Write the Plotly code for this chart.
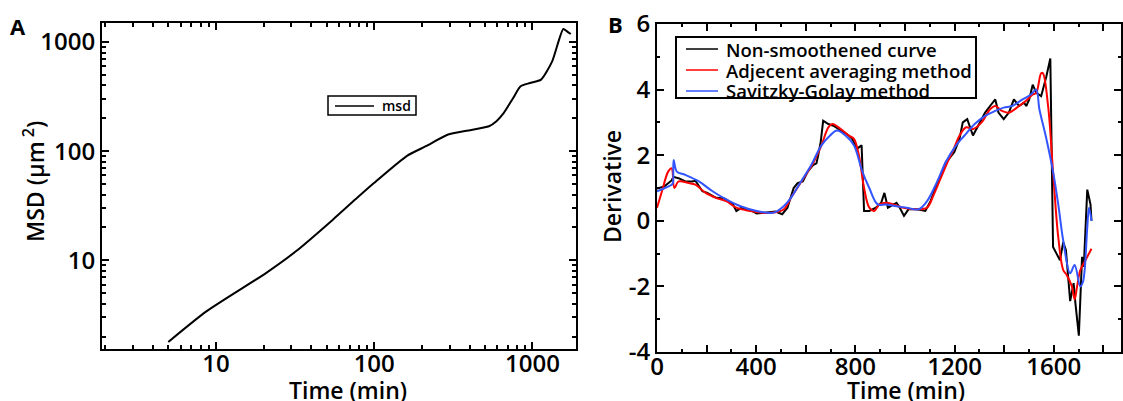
import plotly.graph_objects as go

# ---------------- Panel A data (log-log MSD) ----------------
msd_time = [5, 8.7, 20.7, 32, 54.8, 75.8, 99.6, 162, 212, 293, 384, 531, 592, 659,
            755, 841, 963, 1133, 1332, 1566, 1653, 1745]
msd_val = [1.79, 3.41, 7.65, 12.1, 23.6, 36, 51, 91, 111, 142, 154, 169, 188, 224,
           307, 393, 421, 452, 665, 1315, 1253, 1184]
a_ticks = [10, 100, 1000]
a_ticktext = ["10", "100", "1000"]
a_minor = [m * d for d in (1, 10, 100) for m in range(2, 10)]

# ---------------- Panel B data (derivative) ----------------
raw_t = [0, 30, 59, 66, 87, 114, 141, 155, 183, 203, 238, 272, 280, 306, 320, 341, 361,
         382, 402, 444, 478, 505, 526, 551, 567, 588, 608, 629, 643, 650, 660, 670, 691,
         711, 732, 753, 773, 787, 807, 825, 835, 856, 883, 904, 917, 931, 952, 966, 979,
         996, 1014, 1048, 1082, 1103, 1123, 1144, 1165, 1178, 1199, 1220, 1233, 1251,
         1274, 1295, 1323, 1343, 1364, 1377, 1398, 1419, 1439, 1460, 1480, 1489, 1501,
         1515, 1529, 1549, 1570, 1586, 1597, 1611, 1625, 1638, 1649, 1666, 1680, 1687,
         1701, 1714, 1721, 1735, 1748, 1752]
raw_v = [0.98, 1.05, 1.23, 1.34, 1.3, 1.2, 1.2, 1.22, 0.9, 0.85, 0.7, 0.68, 0.65, 0.5,
         0.3, 0.4, 0.35, 0.3, 0.22, 0.25, 0.28, 0.2, 0.4, 1.0, 1.15, 1.2, 1.5, 1.7, 1.75,
         2.0, 2.4, 3.05, 2.95, 2.9, 2.8, 2.7, 2.6, 2.5, 2.2, 2.3, 0.3, 0.3, 0.4, 0.55, 0.85,
         0.4, 0.5, 0.55, 0.4, 0.15, 0.35, 0.35, 0.3, 0.6, 1.0, 1.4, 1.8, 1.9, 2.1, 2.5, 3.0,
         3.1, 2.6, 2.9, 3.3, 3.5, 3.7, 3.3, 3.1, 3.3, 3.7, 3.5, 3.6, 3.5, 3.7, 4.15, 3.9,
         3.8, 4.4, 4.95, -0.8, -1.0, -1.2, -0.65, -0.9, -2.45, -1.9, -2.5, -3.5, -1.1,
         -1.4, 0.95, 0.5, 0.0]

avg_t = [0, 20, 45, 59, 70, 87, 128, 155, 196, 238, 279, 320, 375, 416, 471, 512, 540,
         574, 608, 629, 663, 691, 707, 732, 773, 794, 814, 835, 856, 876, 897, 924, 952,
         993, 1048, 1089, 1116, 1144, 1178, 1192, 1220, 1247, 1274, 1309, 1343, 1364,
         1391, 1419, 1460, 1487, 1515, 1529, 1549, 1556, 1577, 1597, 1618, 1638, 1652,
         1673, 1684, 1694, 1707, 1728, 1752]
avg_v = [0.4, 0.9, 1.5, 1.6, 1.0, 1.2, 1.15, 1.1, 0.85, 0.7, 0.6, 0.4, 0.3, 0.25, 0.25,
         0.35, 0.7, 1.1, 1.5, 1.75, 2.3, 2.85, 2.95, 2.85, 2.6, 2.5, 2.0, 1.0, 0.4, 0.3,
         0.5, 0.55, 0.5, 0.4, 0.35, 0.4, 0.8, 1.3, 1.9, 2.1, 2.6, 2.85, 2.8, 3.0, 3.4, 3.5,
         3.35, 3.3, 3.5, 3.65, 3.85, 3.9, 4.5, 4.5, 3.5, 1.5, -0.5, -1.5, -1.65, -2.0,
         -2.4, -2.0, -1.5, -1.2, -0.85]

sg_t = [0, 59, 64, 67, 80, 114, 169, 224, 279, 334, 402, 471, 512, 540, 581, 622, 663,
        698, 725, 760, 794, 828, 856, 890, 924, 959, 1007, 1055, 1089, 1130, 1165, 1206,
        1240, 1281, 1323, 1364, 1398, 1432, 1474, 1508, 1529, 1542, 1570, 1597, 1618,
        1638, 1666, 1684, 1707, 1718, 1735, 1742, 1752]
sg_v = [0.9, 1.1, 1.15, 1.85, 1.5, 1.4, 1.2, 0.9, 0.65, 0.45, 0.3, 0.25, 0.45, 0.7, 1.2,
        1.7, 2.3, 2.6, 2.75, 2.6, 2.3, 1.5, 1.0, 0.5, 0.5, 0.45, 0.4, 0.35, 0.6, 1.2, 1.8,
        2.3, 2.6, 2.95, 3.2, 3.35, 3.45, 3.5, 3.7, 3.85, 4.0, 3.4, 2.5, 1.5, 0.5, -0.6,
        -1.6, -1.35, -2.0, -1.85, -0.2, 0.4, 0.0]

b_xticks = [0, 200, 400, 600, 800, 1000, 1200, 1400, 1600, 1800]
b_xticktext = ["0", "", "400", "", "800", "", "1200", "", "1600", ""]
b_yticks = [-4, -2, 0, 2, 4, 6]
b_yticktext = ["-4", "-2", "0", "2", "4", "6"]

names_a = ["msd"]
names_b = ["Non-smoothened curve", "Adjecent averaging method", "Savitzky-Golay method"]
colors_b = ["black", "#ff0000", "#3355ff"]

FONT = "Open Sans"
W, H = 1123, 401


def px_x(p):
    return p / W


def px_y(p):
    return 1 - p / H


fig = go.Figure()
fig.add_trace(go.Scatter(x=msd_time, y=msd_val, mode="lines", name=names_a[0],
                         line=dict(color="black", width=2, shape="spline", smoothing=0.6),
                         xaxis="x", yaxis="y", showlegend=False))
fig.add_trace(go.Scatter(x=raw_t, y=raw_v, mode="lines", name=names_b[0],
                         line=dict(color=colors_b[0], width=2), xaxis="x2", yaxis="y2",
                         showlegend=False))
fig.add_trace(go.Scatter(x=avg_t, y=avg_v, mode="lines", name=names_b[1],
                         line=dict(color=colors_b[1], width=2, shape="spline"),
                         xaxis="x2", yaxis="y2", showlegend=False))
fig.add_trace(go.Scatter(x=sg_t, y=sg_v, mode="lines", name=names_b[2],
                         line=dict(color=colors_b[2], width=2, shape="spline"),
                         xaxis="x2", yaxis="y2", showlegend=False))

tick_font = dict(family=FONT, size=24, color="black", weight=600)
axis_common = dict(showline=True, linewidth=2, linecolor="black", mirror="ticks",
                   ticks="inside", ticklen=7, tickwidth=2, tickcolor="black",
                   showgrid=False, zeroline=False, tickfont=tick_font, automargin=False)
minor_log = dict(ticks="inside", ticklen=4, tickwidth=1.5, tickcolor="black",
                 showgrid=False, tickmode="array", tickvals=a_minor)

fig.update_layout(
    width=W, height=H, margin=dict(l=0, r=0, t=0, b=0, autoexpand=False),
    paper_bgcolor="white", plot_bgcolor="white",
    font=dict(family=FONT, color="black"),
    showlegend=False,
    xaxis=dict(type="log", domain=[px_x(102), px_x(576)], range=[0.28, 3.275],
               tickvals=a_ticks, ticktext=a_ticktext, minor=minor_log,
               ticklabelstandoff=-8, anchor="y", **axis_common),
    yaxis=dict(type="log", domain=[px_y(349), px_y(23)], range=[0.188, 3.174],
               tickvals=a_ticks, ticktext=a_ticktext, minor=minor_log,
               anchor="x", **axis_common),
    xaxis2=dict(domain=[px_x(657), px_x(1121)], range=[0, 1871],
                tickvals=b_xticks, ticktext=b_xticktext,
                minor=dict(ticks="inside", ticklen=3, tickwidth=1.5, dtick=100,
                           tickcolor="black", showgrid=False),
                ticklabelstandoff=-8, anchor="y2", **axis_common),
    yaxis2=dict(domain=[px_y(352), px_y(24)], range=[-4, 6],
                tickvals=b_yticks, ticktext=b_yticktext,
                minor=dict(ticks="inside", ticklen=3, tickwidth=1.5, dtick=1,
                           tickcolor="black", showgrid=False),
                anchor="x2", **axis_common),
)

shapes = []
annotations = []

# Legend panel A (drawn by hand to match box size)
shapes.append(dict(type="rect", xref="paper", yref="paper", layer="above",
                   x0=px_x(328), x1=px_x(416), y0=px_y(115), y1=px_y(96),
                   line=dict(color="black", width=1.5), fillcolor="white"))
shapes.append(dict(type="line", xref="paper", yref="paper", layer="above",
                   x0=px_x(335), x1=px_x(374), y0=px_y(106), y1=px_y(106),
                   line=dict(color="black", width=1.5)))
annotations.append(dict(text=names_a[0], x=px_x(380), y=px_y(106), xref="paper",
                        yref="paper", xanchor="left", yanchor="middle", showarrow=False,
                        font=dict(family=FONT, size=14, color="black", weight=600)))

# Legend panel B
shapes.append(dict(type="rect", xref="paper", yref="paper", layer="above",
                   x0=px_x(676), x1=px_x(976), y0=px_y(98), y1=px_y(37),
                   line=dict(color="black", width=2), fillcolor="white"))
for i, (nm, col) in enumerate(zip(names_b, colors_b)):
    yy = [49, 70, 91][i]
    shapes.append(dict(type="line", xref="paper", yref="paper", layer="above",
                       x0=px_x(686), x1=px_x(718), y0=px_y(yy), y1=px_y(yy),
                       line=dict(color=col, width=1.5)))
    annotations.append(dict(text=nm, x=px_x(724), y=px_y(yy), xref="paper",
                            yref="paper", xanchor="left", yanchor="middle",
                            showarrow=False,
                            font=dict(family=FONT, size=18.5, color="black", weight=600)))

ann_font = dict(family=FONT, size=23, color="black", weight=600)
label_font = dict(family=FONT, size=22, color="black", weight=700)
annotations += [
    dict(text="A", x=px_x(18), y=px_y(26), font=label_font),
    dict(text="B", x=px_x(615), y=px_y(24), font=label_font),
    dict(text="Time (min)", x=px_x(348), y=px_y(390), font=ann_font),
    dict(text="Time (min)", x=px_x(906), y=px_y(390), font=ann_font),
    dict(text="MSD (μm<sup> 2</sup>)", x=px_x(34), y=px_y(182), textangle=-90,
         font=ann_font),
    dict(text="Derivative", x=px_x(612), y=px_y(187), textangle=-90, font=ann_font),
]
for a in annotations[-6:]:
    a.update(xref="paper", yref="paper", xanchor="center", yanchor="middle",
             showarrow=False)

fig.update_layout(shapes=shapes, annotations=annotations)
fig.write_html("out.html")
